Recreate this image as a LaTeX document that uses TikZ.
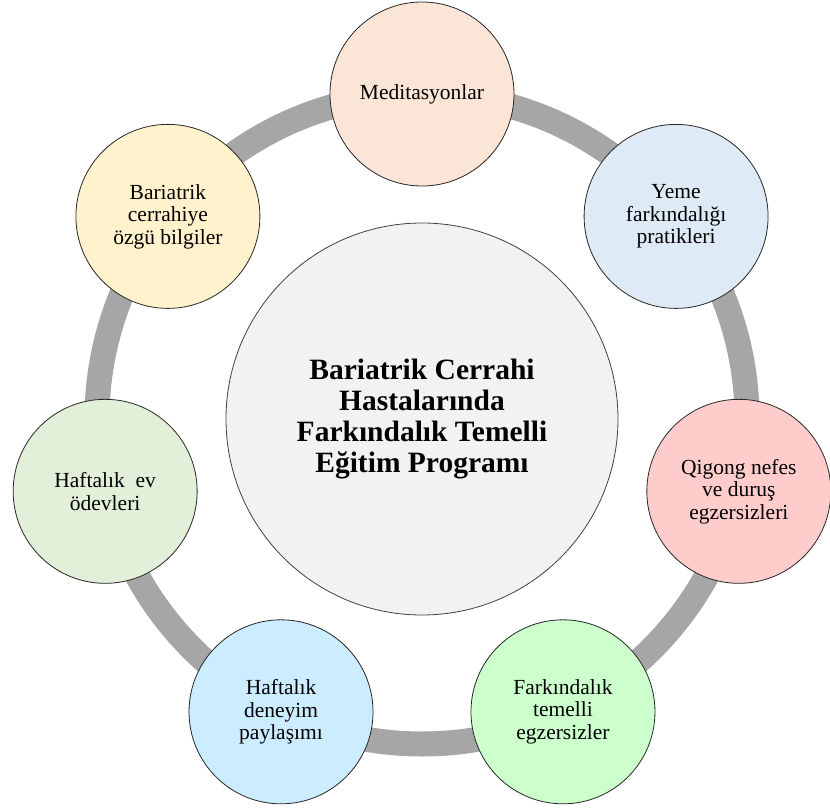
\documentclass[tikz,border=0pt]{standalone}
\usepackage{fontspec}
\setmainfont{Liberation Serif}
\usepackage{tikz}
\usepackage{xcolor}

\definecolor{ringgray}{HTML}{A6A6A6}
\definecolor{hubgray}{HTML}{F2F2F2}
\definecolor{medcol}{HTML}{FBE5D6}
\definecolor{yemecol}{HTML}{DEEBF7}
\definecolor{qigcol}{HTML}{FFCCCC}
\definecolor{farkcol}{HTML}{CCFFCC}
\definecolor{deneycol}{HTML}{CCECFF}
\definecolor{odevcol}{HTML}{E2F0D9}
\definecolor{bilgicol}{HTML}{FFF2CC}

\begin{document}
\begin{tikzpicture}[x=1pt, y=1pt,
	petal/.style={circle, draw=black!85, line width=0.8pt, minimum size=184pt, inner sep=0pt, align=center, font=\fontsize{21.5}{22.5}\selectfont},
	hub/.style={circle, draw=black!75, line width=0.8pt, fill=hubgray, minimum size=392pt, inner sep=0pt, align=center, font=\bfseries\fontsize{29.5}{31.3}\selectfont}]
		\useasboundingbox (-422,-390) rectangle (408,419);
		\clip (-422,-390) rectangle (408,419);
		\coordinate (mid) at (0,0);
		\draw[line width=25pt, color=ringgray] (mid) circle (325);
		\node[hub] (prog) at (mid) {Bariatrik Cerrahi\\ Hastalarında\\ Farkındalık Temelli\\ Eğitim Programı};
		\node[petal, fill=medcol] (med) at (90:325) {Meditasyonlar};
		\node[petal, fill=yemecol] (yeme) at (38.57:325) {Yeme\\ farkındalığı\\ pratikleri};
		\node[petal, fill=qigcol] (qigong) at (-12.86:325) {Qigong nefes\\ ve duruş\\ egzersizleri};
		\node[petal, fill=farkcol] (fark) at (-64.29:325) {Farkındalık\\ temelli\\ egzersizler};
		\node[petal, fill=deneycol] (deney) at (-115.71:325) {Haftalık\\ deneyim\\ paylaşımı};
		\node[petal, fill=odevcol] (odev) at (-167.14:325) {Haftalık~ ev\\ ödevleri};
		\node[petal, fill=bilgicol] (bilgi) at (141.43:325) {Bariatrik\\ cerrahiye\\ özgü bilgiler};
	\end{tikzpicture}
\end{document}
